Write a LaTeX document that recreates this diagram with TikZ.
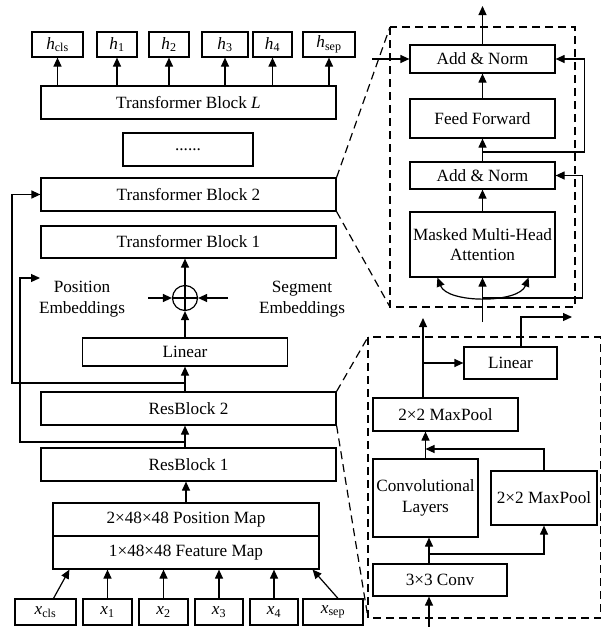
\documentclass[tikz,border=0pt]{standalone}
\usepackage{fontspec}
\setmainfont{Liberation Serif}
\usepackage{tikz}
\usetikzlibrary{
  arrows.meta,
  calc,
  positioning
}
\newcommand{\tok}[2]{\textit{#1}\textsubscript{#2}}
\tikzset{
  blk/.style={draw,line width=1.2pt,inner sep=0pt,align=center,
    minimum height=33pt},
  tokbox/.style={blk,minimum height=25pt},
  wideblk/.style={blk,minimum width=295pt},
  attblk/.style={blk,minimum width=145pt},
  arr/.style={-{Triangle[length=9pt,width=8pt]},line width=1.2pt},
  twoarr/.style={{Triangle[length=9pt,width=8pt]}-{Triangle[length=9pt,width=8pt]},line width=1.2pt},
  ln/.style={line width=1.2pt},
  zoomln/.style={line width=1.2pt,dash pattern=on 8pt off 5pt},
  lab/.style={align=center,inner sep=0pt}
}

\begin{document}
\begin{tikzpicture}[x=1pt,y=-1pt,font=\fontsize{17.2}{20.5}\selectfont]
  \useasboundingbox (0,0) rectangle (602,627);
  % output tokens
  \node[tokbox,minimum width=51pt] (hc) at (57.5,44.5) {\tok{h}{cls}};
  \node[tokbox,minimum width=40pt] (h1) at (117,44.5) {\tok{h}{1}};
  \node[tokbox,minimum width=40pt] (h2) at (169,44.5) {\tok{h}{2}};
  \node[tokbox,minimum width=46pt] (h3) at (225,44.5) {\tok{h}{3}};
  \node[tokbox,minimum width=39pt] (h4) at (272.5,44.5) {\tok{h}{4}};
  \node[tokbox,minimum width=52pt] (hs) at (329,44.5) {\tok{h}{sep}};
  % main stack
  \node[wideblk] (tbL) at (188.5,102.5) {Transformer Block \textit{L}};
  \node[blk,minimum width=130pt] (dots) at (188,149.5) {......};
  \node[wideblk] (tb2) at (188.5,194.5) {Transformer Block 2};
  \node[wideblk,minimum height=32pt] (tb1) at (188.5,242) {Transformer Block 1};
  \node[draw,circle,line width=1.2pt,minimum size=25pt,inner sep=0pt] (plus) at (185,298) {};
  \node[lab] (pos) at (82,299) {Position\\Embeddings};
  \node[lab] (seg) at (302,299) {Segment\\Embeddings};
  \node[blk,minimum width=205pt,minimum height=28pt] (lin1) at (185,352) {Linear};
  \node[wideblk] (rb2) at (188.5,408.5) {ResBlock 2};
  \node[wideblk] (rb1) at (188.5,464.5) {ResBlock 1};
  \node[blk,minimum width=266pt] (pmap) at (186,519.5) {2×48×48 Position Map};
  \node[blk,minimum width=266pt] (fmap) at (186,552.5) {1×48×48 Feature Map};
  % input tokens
  \node[tokbox,minimum width=61pt,minimum height=26pt] (xc) at (45.5,612) {\tok{x}{cls}};
  \node[tokbox,minimum width=49pt,minimum height=26pt] (x1) at (107.5,612) {\tok{x}{1}};
  \node[tokbox,minimum width=49pt,minimum height=26pt] (x2) at (163.5,612) {\tok{x}{2}};
  \node[tokbox,minimum width=48pt,minimum height=26pt] (x3) at (219,612) {\tok{x}{3}};
  \node[tokbox,minimum width=48pt,minimum height=26pt] (x4) at (274,612) {\tok{x}{4}};
  \node[tokbox,minimum width=60pt,minimum height=26pt] (xs) at (333,612) {\tok{x}{sep}};

  \draw[arr] (tbL.north -| hc) -- (hc);
  \draw[arr] (tbL.north -| h1) -- (h1);
  \draw[arr] (tbL.north -| h2) -- (h2);
  \draw[arr] (tbL.north -| h3) -- (h3);
  \draw[arr] (tbL.north -| h4) -- (h4);
  \draw[arr] (tbL.north -| hs) -- (hs);

  \draw[arr] ([xshift=8pt]xc.north) -- ([xshift=17pt]fmap.south west);
  \draw[arr] (x1) -- (x1 |- fmap.south);
  \draw[arr] (x2) -- (x2 |- fmap.south);
  \draw[arr] (x3) -- (x3 |- fmap.south);
  \draw[arr] (x4) -- (x4 |- fmap.south);
  \draw[arr] ([xshift=5pt]xs.north) -- ([xshift=-7pt]fmap.south east);

  \draw[arr] (pmap.north) -- (pmap.north |- rb1.south);
  \draw[arr] (rb1.north -| lin1) -- (rb2.south -| lin1);
  \draw[arr] (rb2.north -| lin1) -- (lin1);
  \draw[arr] (lin1) -- (plus);
  \draw[arr] (plus) -- (plus |- tb1.south);
  \draw[ln] (plus.north) -- (plus.south) (plus.west) -- (plus.east);
  \coordinate (pl) at (148,298);
  \coordinate (pr) at (228,298);
  \draw[arr] (pl) -- (plus.west);
  \draw[arr] (pr) -- (plus.east);

  % skip connections on the left
  \coordinate (fb1) at (185,383);
  \coordinate (fb2) at (185,442);
  \coordinate (posend) at (40,278);
  \draw[arr] (fb1) -- ++(-173,0) |- (tb2.west);
  \draw[arr] (fb2) -- ++(-165,0) |- (posend);

  % transformer block detail
  \node[attblk,minimum height=28pt] (an2) at (482.5,59) {Add \& Norm};
  \node[attblk,minimum height=39pt] (ff) at (482.5,118.5) {Feed Forward};
  \node[attblk,minimum height=27pt] (an1) at (482.5,175.5) {Add \& Norm};
  \node[attblk,minimum height=65pt] (mha) at (482.5,244.5) {Masked Multi-Head\\Attention};
  \coordinate (attin) at (482.5,322);
  \coordinate (r2) at (482.5,298);
  \coordinate (r1) at (482.5,152);
  \coordinate (out1) at (482.5,6);
  \coordinate (in2) at (372,59);
  \draw[arr] (attin) -- (mha);
  \draw[twoarr] ([xshift=28pt]mha.south west) .. controls +(10,26) and +(-10,26) .. ([xshift=-27pt]mha.south east);
  \draw[arr] (mha) -- (an1);
  \draw[arr] (an1) -- (ff);
  \draw[arr] (ff) -- (an2);
  \draw[arr] (an2) -- (out1);
  \draw[arr] (in2) -- (an2.west);
  \draw[arr] (r2) -- ++(100,0) |- (an1.east);
  \draw[arr] (r1) -- ++(102,0) |- (an2.east);
  \coordinate (tl1) at (390,27);
  \coordinate (br1) at (575,307);
  \draw[zoomln] (tl1) rectangle (br1);
  \draw[zoomln] (tb2.north east) -- (tl1);
  \draw[zoomln] (tb2.south east) -- (tl1 |- br1);

  % resblock detail
  \node[blk,minimum width=93pt,minimum height=32pt] (lin2) at (510.5,363) {Linear};
  \node[blk,minimum width=145pt] (mp1) at (445.5,414.5) {2×2 MaxPool};
  \node[blk,minimum width=105pt,minimum height=78pt] (conv) at (425.5,498) {Convolutional\\Layers};
  \node[blk,minimum width=106pt,minimum height=54pt] (mp2) at (544,498) {2×2 MaxPool};
  \node[blk,minimum width=134pt,minimum height=32pt] (c33) at (440,580) {3×3 Conv};
  \coordinate (cin) at (429,627);
  \coordinate (br) at (429,554);
  \coordinate (mg) at (425.5,449);
  \coordinate (out2) at (423,318);
  \coordinate (br2) at (423,363);
  \coordinate (out3) at (572,317);
  \draw[arr] (cin) -- (cin |- c33.south);
  \draw[arr] (c33.north -| cin) -- (conv.south -| cin);
  \draw[arr] (br) -| (mp2.south);
  \draw[arr] (conv.north) -- (conv.north |- mp1.south);
  \draw[arr] (mp2.north) |- (mg);
  \draw[arr] (out2 |- mp1.north) -- (out2);
  \draw[arr] (br2) -- (br2 -| lin2.west);
  \draw[arr] ([xshift=10.5pt]lin2.north) |- (out3);
  \coordinate (tl2) at (368,337);
  \coordinate (br3) at (600.5,618);
  \draw[zoomln] (tl2) rectangle (br3);
  \draw[zoomln] (rb2.north east) -- (tl2);
  \draw[zoomln] (rb2.south east) -- (tl2 |- br3);
\end{tikzpicture}
\end{document}
